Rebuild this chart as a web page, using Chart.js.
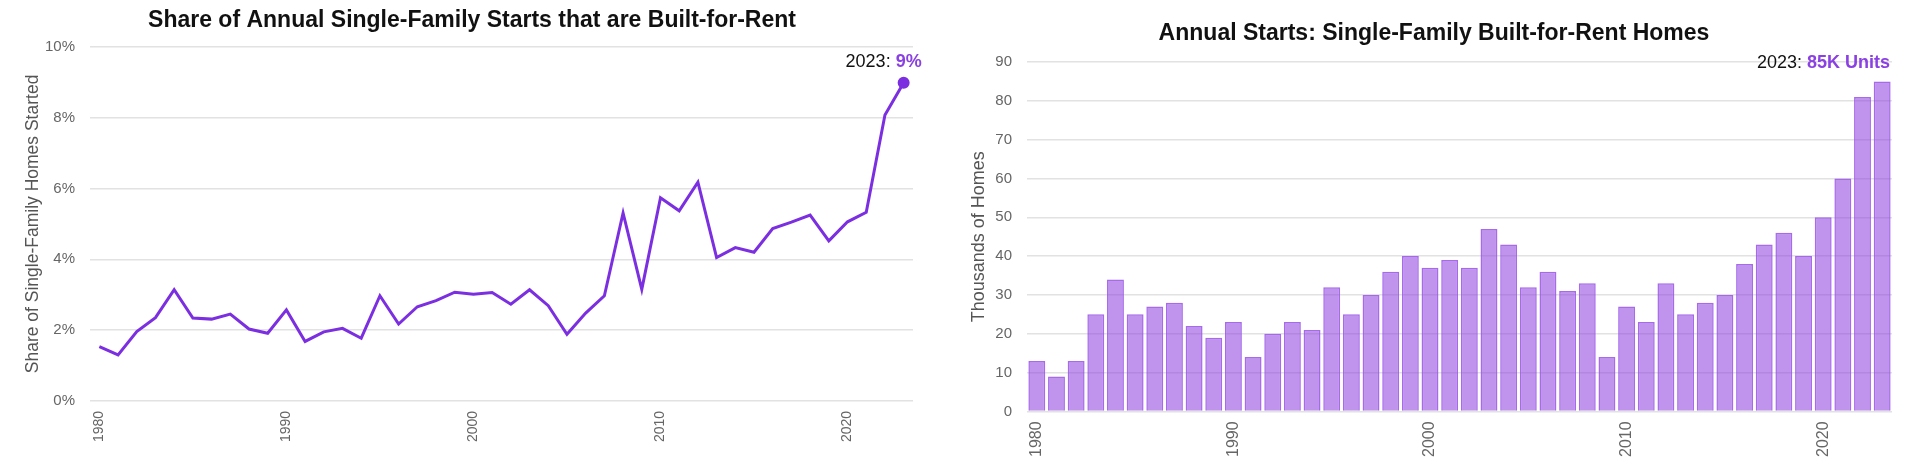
<!DOCTYPE html>
<html lang="en">
<head>
  <meta charset="UTF-8">
  <title>Single-Family Built-for-Rent</title>
  <script src="https://cdn.jsdelivr.net/npm/chart.js"></script>
  <style>
    * { margin:0; padding:0; box-sizing:border-box; }
    html,body { width:1920px; height:471px; overflow:hidden; background:#fff; }
    .box { position:absolute; top:0; height:471px; }
    #left-box  { left:0; width:940px; }
    #right-box { left:960px; width:960px; }
  </style>
</head>
<body>
  <div id="left-box" class="box"><canvas id="shareChart"></canvas></div>
  <div id="right-box" class="box"><canvas id="startsChart"></canvas></div>

  <script>
    // data
    const years = [];
    for (let y = 1980; y <= 2023; y++) years.push(y);

    const sharePct = [
      1.53, 1.30, 1.96, 2.35, 3.14, 2.34, 2.31, 2.45, 2.03, 1.91,
      2.57, 1.68, 1.95, 2.05, 1.77, 2.97, 2.17, 2.66, 2.83, 3.07,
      3.01, 3.06, 2.73, 3.14, 2.69, 1.88, 2.48, 2.97, 5.31, 3.15,
      5.74, 5.37, 6.18, 4.05, 4.33, 4.20, 4.87, 5.05, 5.25, 4.52,
      5.06, 5.33, 8.08, 8.99
    ];

    const startsK = [
      13, 9, 13, 25, 34, 25, 27, 28, 22, 19,
      23, 14, 20, 23, 21, 32, 25, 30, 36, 40,
      37, 39, 37, 47, 43, 32, 36, 31, 33, 14,
      27, 23, 33, 25, 28, 30, 38, 43, 46, 40,
      50, 60, 81, 85
    ];

    const shareTicks = [0, 2, 4, 6, 8, 10];
    const startsTicks = [0, 10, 20, 30, 40, 50, 60, 70, 80, 90];

    const FONT = 'Helvetica, Arial, "Liberation Sans", sans-serif';
    const PURPLE = '#7b2fe0';
    const LABEL_PURPLE = '#8a40e2';
    const GRID = '#e2e2e2';
    const TICK = '#666';

    Chart.defaults.font.family = FONT;
    Chart.defaults.animation = false;

    // callout "2023: xx" drawn as text after the chart
    function calloutPlugin(id, valueText, placeFn) {
      return {
        id: id,
        afterDraw(chart) {
          const ctx = chart.ctx;
          const pos = placeFn(chart);
          ctx.save();
          ctx.textBaseline = 'alphabetic';
          ctx.font = 'bold 18px ' + FONT;
          const w2 = ctx.measureText(valueText).width;
          ctx.font = '18px ' + FONT;
          const lead = '2023: ';
          const w1 = ctx.measureText(lead).width;
          const x0 = pos.x - w1 - w2;
          ctx.fillStyle = '#111';
          ctx.fillText(lead, x0, pos.y);
          ctx.font = 'bold 18px ' + FONT;
          ctx.fillStyle = LABEL_PURPLE;
          ctx.fillText(valueText, x0 + w1, pos.y);
          ctx.restore();
        }
      };
    }

    const decadeTick = function (val, i) {
      const yr = years[i];
      return yr % 10 === 0 ? String(yr) : '';
    };

    // LEFT: share line
    new Chart(document.getElementById('shareChart'), {
      type: 'line',
      data: {
        labels: years,
        datasets: [{
          data: sharePct,
          borderColor: PURPLE,
          backgroundColor: PURPLE,
          borderWidth: 3,
          tension: 0,
          pointRadius: c => c.dataIndex === sharePct.length - 1 ? 4.5 : 0,
          pointHoverRadius: 0
        }]
      },
      options: {
        responsive: true,
        maintainAspectRatio: false,
        layout: { padding: { left: 31, right: 27, top: 0, bottom: 19 } },
        plugins: {
          legend: { display: false },
          tooltip: { enabled: false },
          title: {
            display: true,
            text: 'Share of Annual Single-Family Starts that are Built-for-Rent',
            color: '#111',
            font: { size: 23, weight: 'bold' },
            padding: { top: 7, bottom: 12.4 }
          }
        },
        scales: {
          x: {
            type: 'category',
            offset: true,
            grid: { display: false, drawTicks: false },
            border: { display: false },
            ticks: {
              autoSkip: false, maxRotation: 90, minRotation: 90,
              color: TICK, font: { size: 14 }, padding: 10,
              callback: decadeTick
            }
          },
          y: {
            min: 0, max: 10,
            afterBuildTicks: s => { s.ticks = shareTicks.map(v => ({ value: v })); },
            afterFit: s => { s.width = 59; },
            grid: { color: GRID, lineWidth: 1.5, drawTicks: false },
            border: { display: false },
            ticks: { color: TICK, font: { size: 15 }, padding: 15, callback: v => v + '%' },
            title: {
              display: true, text: 'Share of Single-Family Homes Started',
              color: '#555', font: { size: 17.5 }, padding: { top: -8, bottom: 0 }
            }
          }
        }
      },
      plugins: [calloutPlugin('shareCallout', '9%', chart => {
        const meta = chart.getDatasetMeta(0);
        const pt = meta.data[meta.data.length - 1];
        return { x: pt.x + 18, y: pt.y - 16 };
      })]
    });

    // RIGHT: starts bars
    new Chart(document.getElementById('startsChart'), {
      type: 'bar',
      data: {
        labels: years,
        datasets: [{
          data: startsK,
          backgroundColor: 'rgba(140,60,222,0.55)',
          borderColor: 'rgba(150,80,232,0.85)',
          borderWidth: 1.5,
          barPercentage: 0.86,
          categoryPercentage: 1.0
        }]
      },
      options: {
        responsive: true,
        maintainAspectRatio: false,
        layout: { padding: { left: 16, right: 28, top: 0, bottom: 4 } },
        plugins: {
          legend: { display: false },
          tooltip: { enabled: false },
          title: {
            display: true,
            text: 'Annual Starts: Single-Family Built-for-Rent Homes',
            color: '#111',
            font: { size: 23, weight: 'bold' },
            padding: { top: 19.5, bottom: 14.9 }
          }
        },
        scales: {
          x: {
            grid: { display: false, drawTicks: false },
            border: { display: false },
            ticks: {
              autoSkip: false, maxRotation: 90, minRotation: 90,
              color: TICK, font: { size: 16 }, padding: 10,
              callback: decadeTick
            }
          },
          y: {
            min: 0, max: 90,
            afterBuildTicks: s => { s.ticks = startsTicks.map(v => ({ value: v })); },
            afterFit: s => { s.width = 51; },
            grid: { color: GRID, lineWidth: 1.5, drawTicks: false },
            border: { display: false },
            ticks: { color: TICK, font: { size: 15 }, padding: 15 },
            title: {
              display: true, text: 'Thousands of Homes',
              color: '#555', font: { size: 18 }, padding: { top: -8, bottom: 0 }
            }
          }
        }
      },
      plugins: [calloutPlugin('startsCallout', '85K Units', chart => {
        const yTop = chart.scales.y.getPixelForValue(90);
        return { x: chart.chartArea.right - 2, y: yTop + 6 };
      })]
    });
  </script>
</body>
</html>
